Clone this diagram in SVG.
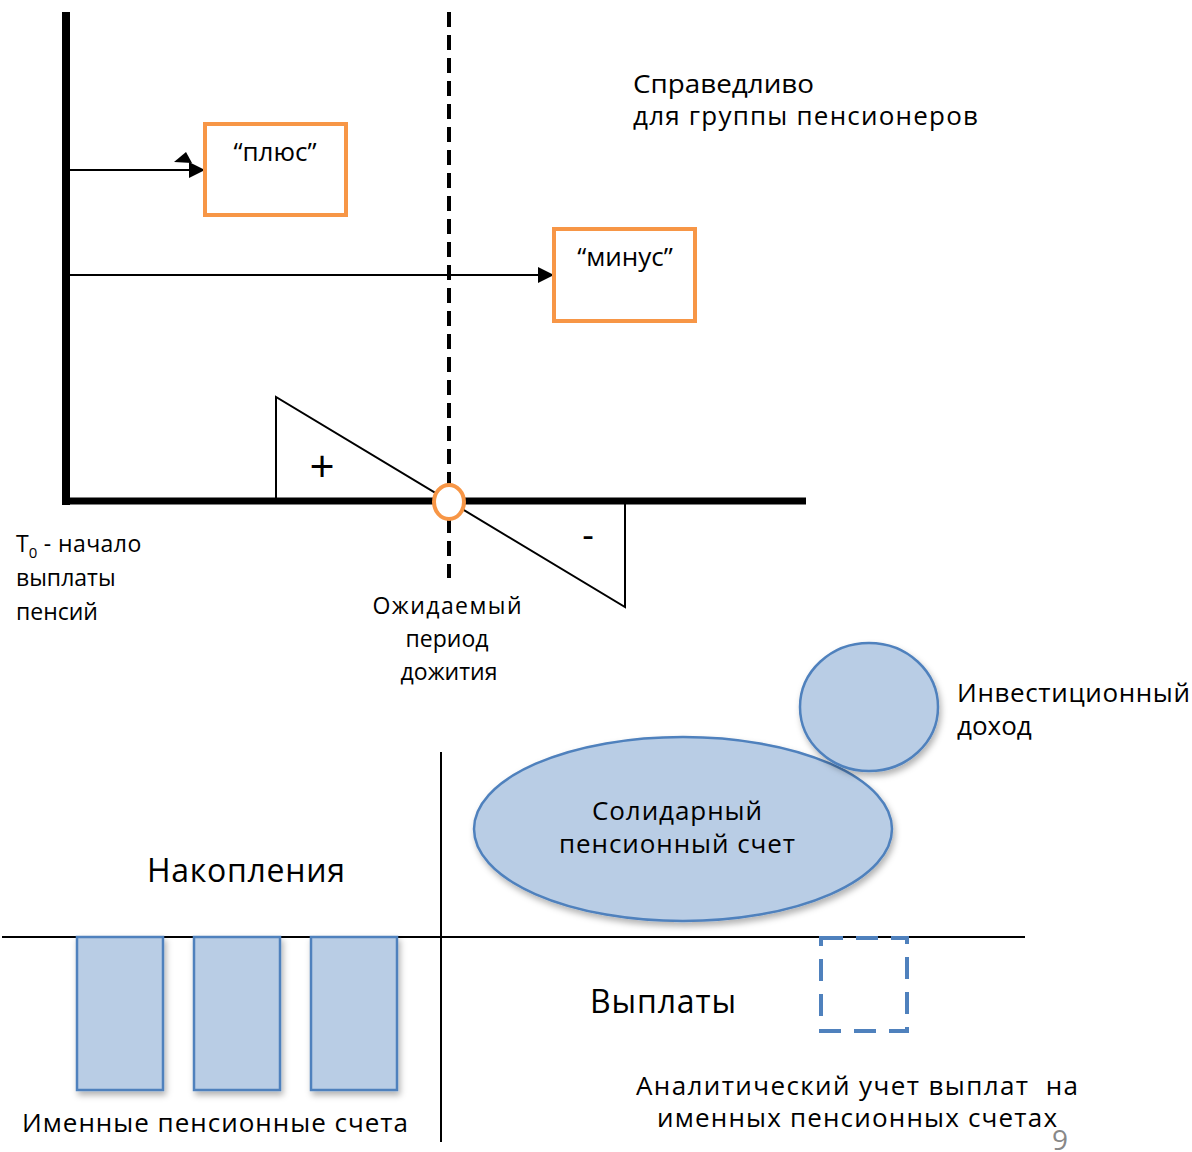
<svg xmlns="http://www.w3.org/2000/svg" width="1192" height="1152" viewBox="0 0 1192 1152">
<style>
text{font-family:"Open Sans","Noto Sans","DejaVu Sans",sans-serif;fill:#000}
.t24{font-size:26px}
.t22{font-size:23px}
.t30{font-size:32px}
.box{fill:#fff;stroke:#F79646;stroke-width:4}
.acc{fill:#B9CDE5;stroke:#4F81BD;stroke-width:2.5}
.thin{stroke:#000;stroke-width:2;fill:none}
</style>
<defs>
<marker id="arr" markerWidth="16" markerHeight="16" refX="15" refY="8" orient="auto" markerUnits="userSpaceOnUse" viewBox="0 0 16 16">
<path d="M0,0 L16,8 L0,16 z" fill="#000"/>
</marker>
<filter id="sh" x="-20%" y="-20%" width="140%" height="150%">
<feDropShadow dx="2" dy="4" stdDeviation="3" flood-color="#000" flood-opacity="0.3"/>
</filter>
</defs>
<rect width="1192" height="1152" fill="#fff"/>

<g id="axes">
<line x1="66" y1="12" x2="66" y2="505" stroke="#000" stroke-width="8"/>
<line x1="66" y1="501" x2="806" y2="501" stroke="#000" stroke-width="7"/>
<line x1="449" y1="12" x2="449" y2="578" stroke="#000" stroke-width="4" stroke-dasharray="15 8"/>
</g>

<g id="connectors">
<line x1="70" y1="170" x2="204" y2="170" stroke="#000" stroke-width="2" marker-end="url(#arr)"/>
<polygon points="174,162 186,152 192,163" fill="#000"/>
<line x1="70" y1="275" x2="553" y2="275" stroke="#000" stroke-width="2" marker-end="url(#arr)"/>
</g>

<g id="node-plus">
<rect class="box" x="205" y="124" width="141" height="91"/>
<text class="t24" x="275" y="161" text-anchor="middle">“плюс”</text>
</g>
<g id="node-minus">
<rect class="box" x="554" y="229" width="141" height="92"/>
<text class="t24" x="625" y="266" text-anchor="middle">“минус”</text>
</g>

<g id="triangles">
<polyline class="thin" points="276,501 276,397 625,607 625,503" stroke-width="1.8"/>
<text x="322" y="482" font-size="44" text-anchor="middle">+</text>
<text x="588" y="548" font-size="36" text-anchor="middle">-</text>
</g>

<g id="node-point">
<ellipse cx="449" cy="502" rx="15" ry="17" fill="#fff" stroke="#F79646" stroke-width="4"/>
</g>

<g id="labels-top">
<text class="t24" x="633" y="93" textLength="181" lengthAdjust="spacingAndGlyphs">Справедливо</text>
<text class="t24" x="633" y="125" textLength="345" lengthAdjust="spacing">для группы пенсионеров</text>
<text class="t22" x="16" y="552">T<tspan font-size="15" dy="6">0</tspan><tspan dy="-6" textLength="104"> - начало</tspan></text>
<text class="t22" x="16" y="586">выплаты</text>
<text class="t22" x="16" y="620">пенсий</text>
<text class="t22" x="447" y="614" text-anchor="middle" textLength="149" lengthAdjust="spacing">Ожидаемый</text>
<text class="t22" x="447" y="647" text-anchor="middle">период</text>
<text class="t22" x="449" y="680" text-anchor="middle">дожития</text>
</g>

<g id="quadrants">
<line x1="441" y1="752" x2="441" y2="1142" stroke="#000" stroke-width="2"/>
<line x1="2" y1="937" x2="1025" y2="937" stroke="#000" stroke-width="2"/>
</g>

<g id="node-accounts">
<rect class="acc" x="77" y="937" width="86" height="153" filter="url(#sh)"/>
<rect class="acc" x="194" y="937" width="86" height="153" filter="url(#sh)"/>
<rect class="acc" x="311" y="937" width="86" height="153" filter="url(#sh)"/>
<text class="t24" x="215" y="1132" text-anchor="middle" textLength="386" lengthAdjust="spacing">Именные пенсионные счета</text>
</g>

<text class="t30" x="246" y="882" text-anchor="middle" textLength="198" lengthAdjust="spacing">Накопления</text>

<g id="node-solidarity">
<ellipse class="acc" cx="683" cy="829" rx="209" ry="92" filter="url(#sh)"/>
<text class="t24" x="677" y="820" text-anchor="middle" textLength="170" lengthAdjust="spacing">Солидарный</text>
<text class="t24" x="677" y="853" text-anchor="middle" textLength="236" lengthAdjust="spacing">пенсионный счет</text>
</g>

<g id="node-income">
<ellipse class="acc" cx="869" cy="707" rx="69" ry="64" filter="url(#sh)"/>
<text class="t24" x="957" y="702" textLength="233" lengthAdjust="spacing">Инвестиционный</text>
<text class="t24" x="957" y="735">доход</text>
</g>

<text class="t30" x="663" y="1013" text-anchor="middle" textLength="146" lengthAdjust="spacing">Выплаты</text>

<g id="node-analytic">
<rect x="821" y="938" width="86" height="93" fill="none" stroke="#4F81BD" stroke-width="4" stroke-dasharray="22 13"/>
<text class="t24" x="857" y="1095" text-anchor="middle" textLength="442" lengthAdjust="spacing">Аналитический учет выплат&#160; на</text>
<text class="t24" x="857" y="1127" text-anchor="middle" textLength="400" lengthAdjust="spacing">именных пенсионных счетах</text>
</g>

<text x="1060" y="1150" font-size="28" style="fill:#888" text-anchor="middle">9</text>
</svg>
